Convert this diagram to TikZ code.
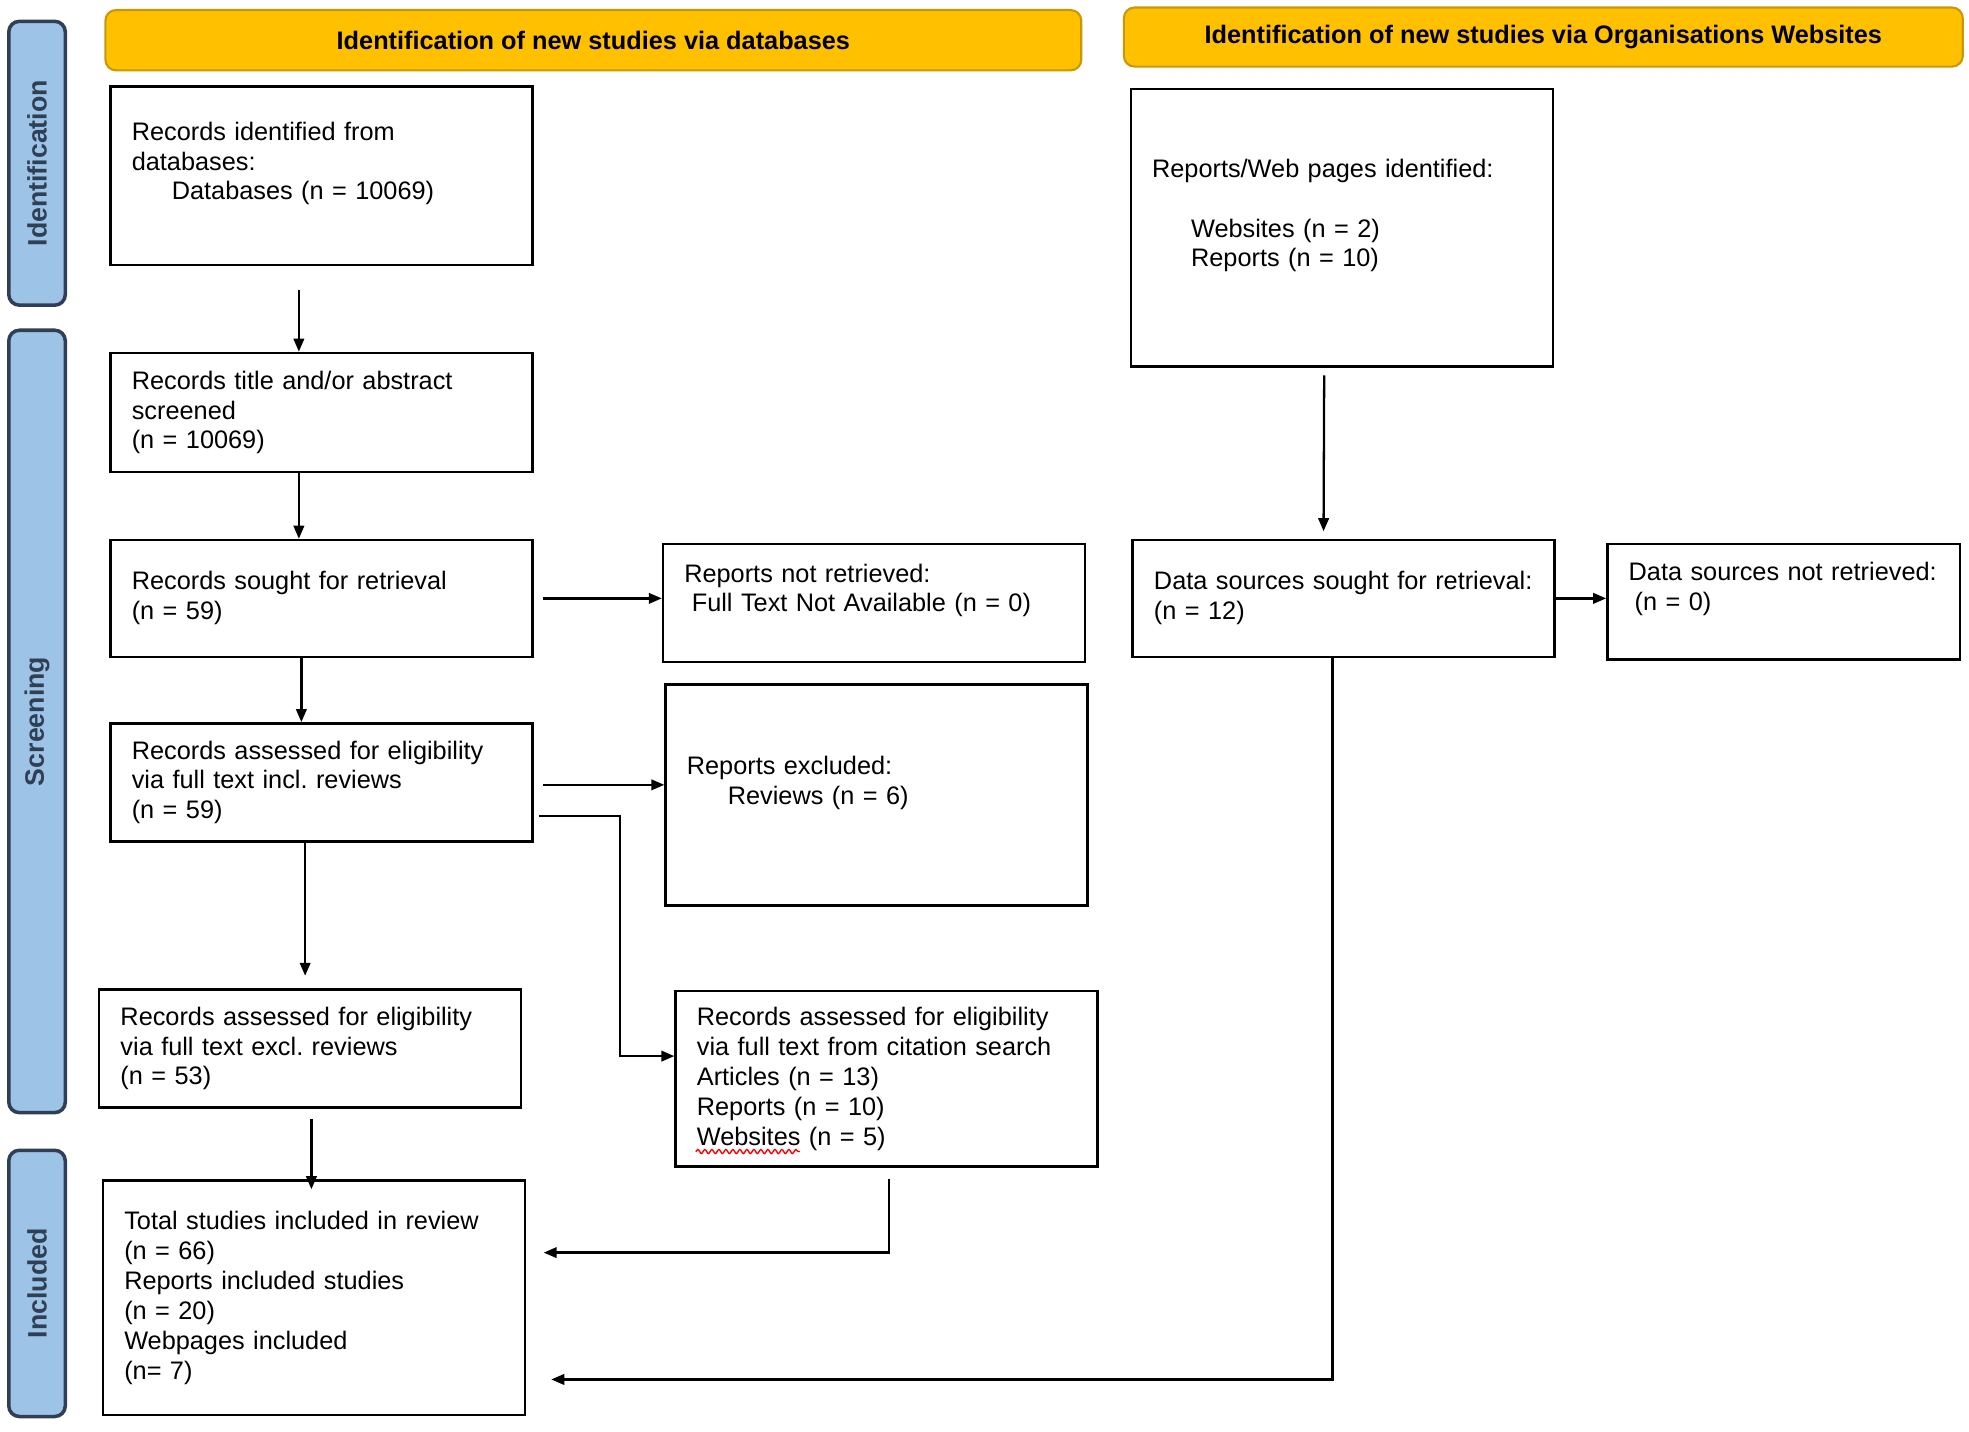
\documentclass[tikz,border=0pt]{standalone}
\usepackage{fontspec}
\setmainfont{Liberation Sans}
\usetikzlibrary{arrows.meta, positioning, decorations.pathmorphing}
\definecolor{PhaseBlue}{HTML}{9DC3E6}
\definecolor{PhaseEdge}{HTML}{2F3F55}
\definecolor{BannerGold}{HTML}{FFC000}
\definecolor{BannerEdge}{HTML}{C9980A}
\frenchspacing

\begin{document}
\begin{tikzpicture}[x=0.12557mm, y=-0.12557mm,
  box/.style={rectangle, draw=black, line width=0.7pt, fill=white, align=left,
    text width=37.93mm, inner xsep=2.13mm, inner ysep=0pt, font=\fontsize{7.2}{8.5}\selectfont},
  banner/.style={rectangle, rounded corners=3pt, fill=BannerGold, draw=BannerEdge, line width=0.6pt,
    font=\fontsize{7.2}{8.5}\selectfont\bfseries, text centered},
  phase/.style={rectangle, rounded corners=3pt, fill=PhaseBlue, draw=PhaseEdge, line width=1pt,
    rotate=90, font=\fontsize{7.6}{9}\selectfont\bfseries, text=PhaseEdge, minimum height=5.65mm},
  line/.style={-{Triangle[length=1.3mm, width=1.05mm]}, line width=0.65pt}
]
\useasboundingbox (0,0) rectangle (1568,1140);

% phases and headers
\node[phase, minimum width=28.38mm] (idphase)  at (29.5,130)  {Identification};
\node[phase, minimum width=78.23mm] (scrphase) at (29.5,574.5) {Screening};
\node[phase, minimum width=26.62mm] (incphase) at (29.5,1022) {Included};
\node[banner, minimum width=97.57mm, minimum height=6.03mm] (dbhead)  at (472.5,32) {Identification of new studies via databases};
\node[banner, minimum width=83.88mm, minimum height=5.9mm]  (webhead) at (1229,29.5) {Identification of new studies via Organisations Websites};

% databases column
\node[box, minimum height=17.83mm] (dbrec) at (256,140) {Records identified from\\databases:\\\hspace*{4mm}Databases (n = 10069)\\\mbox{}};
\node[box, minimum height=11.93mm] (screened) at (256,328.5) {Records title and/or abstract\\screened\\(n = 10069)};
\node[box, minimum height=11.68mm] (sought) at (256,476.5) {Records sought for retrieval\\(n = 59)};
\node[box, minimum height=11.8mm] (notretr) at (696,480) {Reports not retrieved:\\\hspace*{0.75mm}Full Text Not Available (n = 0)\\\mbox{}};
\node[box, minimum height=11.8mm] (assessincl) at (256,623) {Records assessed for eligibility\\via full text incl. reviews\\(n = 59)};
\node[box, minimum height=22.1mm] (excluded) at (698,633) {Reports excluded:\\\hspace*{4.1mm}Reviews (n = 6)\\\mbox{}};
\node[box, minimum height=11.8mm] (assessexcl) at (247,835) {Records assessed for eligibility\\via full text excl. reviews\\(n = 53)};
\node[box, minimum height=17.58mm] (citation) at (706,859) {Records assessed for eligibility\\via full text from citation search\\Articles (n = 13)\\Reports (n = 10)\\Websites (n = 5)};
\node[box, minimum height=23.48mm] (included) at (250,1033.5) {Total studies included in review\\(n = 66)\\Reports included studies\\(n = 20)\\Webpages included\\(n= 7)};

% websites column
\node[box, minimum height=27.75mm] (webrec) at (1068.5,181.5) {Reports/Web pages identified:\\\mbox{}\\\hspace*{3.9mm}Websites (n = 2)\\\hspace*{3.9mm}Reports (n = 10)\\\mbox{}};
\node[box, minimum height=11.68mm] (websought) at (1070,476.5) {Data sources sought for retrieval:\\(n = 12)};
\node[box, text width=31.02mm, minimum height=11.55mm] (webnotretr) at (1420.5,479) {Data sources not retrieved:\\\hspace*{0.6mm}(n = 0)\\\mbox{}};

% spell-check underline
\draw[red, line width=0.4pt, decorate, decoration={snake, amplitude=0.2mm, segment length=0.7mm}]
  ([shift={(17,58)}]citation.west) -- ([shift={(100,58)}]citation.west);

% connectors
\draw[line] ([shift={(-18,19)}]dbrec.south) -- ([shift={(-18,0)}]screened.north);
\draw[line] ([shift={(-18,0)}]screened.south) -- ([shift={(-18,0)}]sought.north);
\draw[line, shorten <=4\pgflinewidth] (sought.east) -- (sought.east -| notretr.west);
\draw[line] ([shift={(-16,0)}]sought.south) -- ([shift={(-16,0)}]assessincl.north);
\draw[line, shorten <=4\pgflinewidth] ([shift={(0,2)}]assessincl.east) -- ([shift={(0,2)}]assessincl.east -| excluded.west);
\draw[line] ([shift={(4,27)}]assessincl.east) -- ++(65,0) |- ([shift={(0,-18)}]citation.west);
\draw[line] ([shift={(-13,0)}]assessincl.south) -- ([shift={(-4,-10)}]assessexcl.north);
\draw[line] ([shift={(1,8)}]assessexcl.south) -- ([shift={(1,8)}]assessexcl.south |- included.north);
\draw[line] ([shift={(2,9)}]citation.south) |- ([shift={(14,-36)}]included.east);
\draw[line] ([shift={(-14,6)}]webrec.south) -- ([shift={(-16,-6)}]websought.north);
\draw[line] (websought.east) -- (websought.east -| webnotretr.west);
\draw[line] ([shift={(-9,0)}]websought.south) |- ([shift={(20,65)}]included.east);
\end{tikzpicture}
\end{document}
